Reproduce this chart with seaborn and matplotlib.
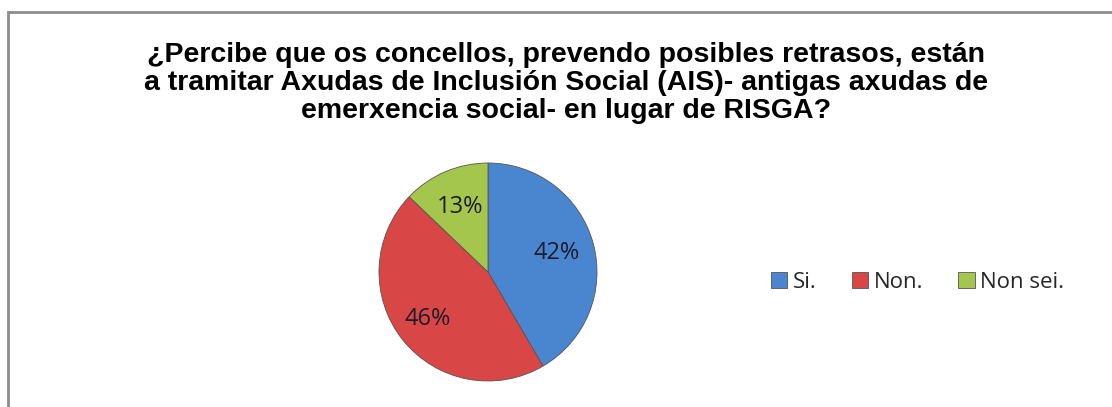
import matplotlib
matplotlib.use('Agg')
import numpy as np
import matplotlib.pyplot as plt
import seaborn as sns
from matplotlib.patches import Rectangle

# Data
categories = ['Si.', 'Non.', 'Non sei.']
percentages = [42, 46, 13]
title_text = ('¿Percibe que os concellos, prevendo posibles retrasos, están\n'
              'a tramitar Axudas de Inclusión Social (AIS)- antigas axudas de\n'
              'emerxencia social- en lugar de RISGA?')

sns.set_theme(style='white')
plt.rcParams['font.family'] = ['Liberation Sans', 'DejaVu Sans']

colors = sns.color_palette(['#4a86cf', '#d94646', '#a4c64c'])

fig = plt.figure(figsize=(11.12, 4.07), dpi=100)

# outer chart border (only top and left are inside the picture)
fig.patches.append(Rectangle((8 / 1112, -0.05), 1.2, 1 - 12 / 407 + 0.05,
                             transform=fig.transFigure, fill=False,
                             edgecolor='#8c8c8c', linewidth=2))

fig.text(0.509, 0.898, title_text, ha='center', va='top', fontsize=20.5,
         fontweight='bold', color='black', linespacing=1.12)

# pie centred at about (488, 272) px, radius ~109 px
r_px = 109
ax = fig.add_axes([(488 - r_px) / 1112, (407 - 272 - r_px) / 407,
                   2 * r_px / 1112, 2 * r_px / 407])
wedges, texts = ax.pie(
    percentages, colors=colors, startangle=90, counterclock=False,
    wedgeprops=dict(edgecolor='#555555', linewidth=0.6))
ax.set_aspect('equal')
ax.set_xlim(-1, 1)
ax.set_ylim(-1, 1)

# percentage labels
label_dist = [0.65, 0.70, 0.65]
for w, v, d in zip(wedges, percentages, label_dist):
    ang = np.deg2rad((w.theta1 + w.theta2) / 2)
    ax.text(d * np.cos(ang), d * np.sin(ang), f'{v}%', ha='center', va='center',
            fontsize=17, family=['Open Sans', 'DejaVu Sans'], color='#1c1c2c')

fig.legend(wedges, categories, loc='center', bbox_to_anchor=(0.825, 0.307),
           ncol=3, frameon=False, handlelength=0.73, handleheight=0.73,
           handletextpad=0.25, columnspacing=1.6,
           prop={'family': ['Open Sans', 'DejaVu Sans'], 'size': 16})

fig.savefig('out.png', dpi=100, facecolor='white')
